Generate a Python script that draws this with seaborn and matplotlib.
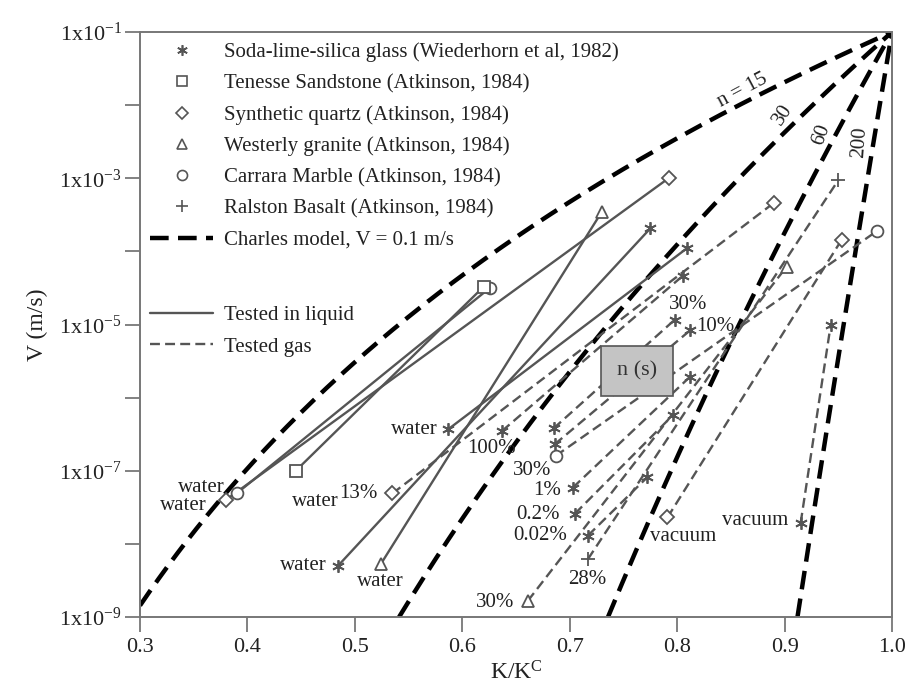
import numpy as np
import pandas as pd
import matplotlib
matplotlib.use("Agg")
import matplotlib.pyplot as plt
import seaborn as sns
from matplotlib.lines import Line2D
from matplotlib.ticker import FixedLocator, FuncFormatter, NullLocator

# ---- crack-velocity test segments: start (K0, V0) and end (K1, V1) ----
material = ["quartz", "marble", "sandstone", "glass", "granite", "glass",
            "glass", "glass", "glass", "glass", "glass", "glass", "glass",
            "basalt", "quartz", "quartz", "granite", "marble"]
environment = ["liquid"] * 6 + ["gas"] * 12
k_start = [0.380, 0.390, 0.445, 0.484, 0.524, 0.587,
           0.637, 0.685, 0.686, 0.703, 0.705, 0.717, 0.915,
           0.717, 0.535, 0.791, 0.661, 0.687]
v_start = [4.0e-8, 4.9e-8, 1.0e-7, 4.95e-9, 5.25e-9, 3.7e-7,
           3.5e-7, 3.8e-7, 2.3e-7, 5.9e-8, 2.6e-8, 1.3e-8, 1.95e-8,
           6.2e-9, 4.9e-8, 2.3e-8, 1.66e-9, 1.6e-7]
k_end = [0.792, 0.626, 0.620, 0.775, 0.730, 0.809,
         0.805, 0.798, 0.812, 0.812, 0.796, 0.772, 0.943,
         0.950, 0.890, 0.953, 0.902, 0.986]
v_end = [1.0e-3, 3.2e-5, 3.3e-5, 2.06e-4, 3.5e-4, 1.1e-4,
         4.6e-5, 1.17e-5, 8.3e-6, 1.93e-6, 5.75e-7, 8.1e-8, 1.0e-5,
         9.4e-4, 4.6e-4, 1.43e-4, 6.2e-5, 1.9e-4]

# ---- Charles model V = V0 (K/Kc)^n ----
charles_v0 = 0.1
charles_n = [15, 30, 60, 200]
charles_label_txt = ["n = 15", "30", "60", "200"]
charles_label_k = [0.8613, 0.8985, 0.9340, 0.9700]
charles_label_v = [1.61e-2, 7.3e-3, 3.9e-3, 3.1e-3]
charles_label_rot = [28, 57, 70, 86]

# ---- annotations: text, K, V, horizontal alignment ----
note_txt = ["water", "water", "water", "13%", "water", "100%", "30%", "1%",
            "0.2%", "0.02%", "28%", "30%", "water", "water", "vacuum",
            "vacuum", "30%", "10%"]
note_k = [0.3790, 0.3625, 0.4630, 0.5215, 0.5775, 0.6274, 0.6646, 0.6785,
          0.6705, 0.6724, 0.7161, 0.6305, 0.4740, 0.5234, 0.8057, 0.8725,
          0.8104, 0.8355]
note_v = [5.9e-8, 3.3e-8, 3.8e-8, 4.9e-8, 3.7e-7, 2.0e-7, 1.0e-7, 5.3e-8,
          2.5e-8, 1.3e-8, 3.3e-9, 1.6e-9, 5.0e-9, 3.1e-9, 1.25e-8, 2.1e-8,
          1.86e-5, 9.3e-6]
note_ha = ["right", "right", "center", "right", "right", "center", "center",
           "center", "center", "center", "center", "center", "right",
           "center", "center", "center", "center", "center"]

marker_of = {"glass": (6, 2, 0), "sandstone": "s", "quartz": "D",
             "granite": "^", "marble": "o", "basalt": "+"}
marker_size = {"glass": 9, "sandstone": 8.5, "quartz": 7.5, "granite": 9,
               "marble": 8.5, "basalt": 10}
legend_names = {
    "glass": "Soda-lime-silica glass (Wiederhorn et al, 1982)",
    "sandstone": "Tenesse Sandstone (Atkinson, 1984)",
    "quartz": "Synthetic quartz (Atkinson, 1984)",
    "granite": "Westerly granite (Atkinson, 1984)",
    "marble": "Carrara Marble (Atkinson, 1984)",
    "basalt": "Ralston Basalt (Atkinson, 1984)",
}

sns.set_theme(style="ticks")
plt.rcParams["font.family"] = ["Liberation Serif", "DejaVu Serif"]
plt.rcParams["mathtext.fontset"] = "custom"
plt.rcParams["mathtext.rm"] = "Liberation Serif"
plt.rcParams["mathtext.it"] = "Liberation Serif"

GRAY = "#555555"
INK = "#222222"
FS = 15
CHARLES_DASH = [4.2, 2.1]
GAS_DASH = [4.2, 2.2]

fig = plt.figure(figsize=(9.07, 6.94), dpi=100)
ax = fig.add_axes([140 / 907, 1 - 617 / 694, 752 / 907, 585 / 694])

# Charles model curves
for n in charles_n:
    k_lo = max(0.3, (1e-9 / charles_v0) ** (1.0 / n))
    kk = np.linspace(k_lo, 1.0, 400)
    curve = pd.DataFrame({"K": kk, "V": charles_v0 * kk ** n})
    sns.lineplot(data=curve, x="K", y="V", ax=ax, color="black", lw=3.2,
                 estimator=None, sort=False, legend=False, zorder=2)
    ax.lines[-1].set_dashes(CHARLES_DASH)

# test segments
for i in range(len(k_start)):
    seg = pd.DataFrame({"K": [k_start[i], k_end[i]],
                        "V": [v_start[i], v_end[i]]})
    sns.lineplot(data=seg, x="K", y="V", ax=ax, color=GRAY, lw=1.7,
                 estimator=None, sort=False, legend=False, zorder=3)
    ln = ax.lines[-1]
    if environment[i] == "gas":
        ln.set_dashes(GAS_DASH)
    ln.set_marker(marker_of[material[i]])
    ln.set_markersize(marker_size[material[i]])
    ln.set_markerfacecolor("white")
    ln.set_markeredgecolor(GRAY)
    ln.set_markeredgewidth(1.3)

ax.set_yscale("log")
ax.set_xlim(0.3, 1.0)
ax.set_ylim(1e-9, 1e-1)

# Charles curve labels
for txt, k, v, r in zip(charles_label_txt, charles_label_k, charles_label_v,
                        charles_label_rot):
    ax.text(k, v, txt, rotation=r, rotation_mode="anchor", ha="center",
            va="center", fontsize=FS, color=INK, zorder=5)

for t, k, v, ha in zip(note_txt, note_k, note_v, note_ha):
    ax.text(k, v, t, ha=ha, va="center", fontsize=FS, color=INK, zorder=5)

ax.text(0.7626, 2.3e-6, "n (s)", ha="center", va="center", fontsize=FS + 1,
        color="#333333", zorder=6,
        bbox=dict(boxstyle="square,pad=0.7", fc="#c4c4c4", ec="#555555",
                  lw=1.2))

# axes styling
for s in ax.spines.values():
    s.set_color("#777777")
    s.set_linewidth(1.4)
ax.tick_params(axis="both", direction="out", length=11, width=1.3,
               color="#777777", labelsize=16, labelcolor=INK, pad=4)
ax.tick_params(axis="y", pad=2)
ax.xaxis.set_major_locator(FixedLocator(np.round(np.arange(0.3, 1.01, 0.1), 1)))
ax.xaxis.set_major_formatter(FuncFormatter(lambda v, p: f"{v:.1f}"))
ax.yaxis.set_major_locator(FixedLocator([10.0 ** e for e in range(-9, 0)]))
ax.yaxis.set_minor_locator(NullLocator())


def decade_label(v, pos):
    e = int(round(np.log10(v)))
    return f"1x10$^{{{e}}}$" if e % 2 else ""


ax.yaxis.set_major_formatter(FuncFormatter(decade_label))
ax.set_xlabel("K/K$^{C}$", fontsize=17, color=INK, labelpad=3)
ax.set_ylabel("V (m/s)", fontsize=17, color=INK, labelpad=8)

# legends
mat_handles = [Line2D([], [], color=GRAY, lw=0, marker=marker_of[k],
                      markersize=marker_size[k] * 0.85,
                      markerfacecolor="white", markeredgecolor=GRAY,
                      markeredgewidth=1.2)
               for k in legend_names]
mat_handles.append(Line2D([], [], color="black", lw=3.2, dashes=CHARLES_DASH))
leg1 = ax.legend(mat_handles, list(legend_names.values()) +
                 ["Charles model, V = 0.1 m/s"],
                 loc="upper left", bbox_to_anchor=(0.0, 1.0), frameon=False,
                 fontsize=FS, handlelength=3.0, handletextpad=0.55,
                 labelspacing=0.56, borderaxespad=0.3, borderpad=0.2)
for t in leg1.get_texts():
    t.set_color(INK)
ax.add_artist(leg1)
env_handles = [Line2D([], [], color=GRAY, lw=1.7),
               Line2D([], [], color=GRAY, lw=1.7, dashes=GAS_DASH)]
leg2 = ax.legend(env_handles, ["Tested in liquid", "Tested gas"],
                 loc="upper left", bbox_to_anchor=(0.0, 0.55), frameon=False,
                 fontsize=FS, handlelength=3.0, handletextpad=0.55,
                 labelspacing=0.56, borderaxespad=0.3, borderpad=0.2)
for t in leg2.get_texts():
    t.set_color(INK)

fig.savefig("out.png", dpi=100, facecolor="white")
